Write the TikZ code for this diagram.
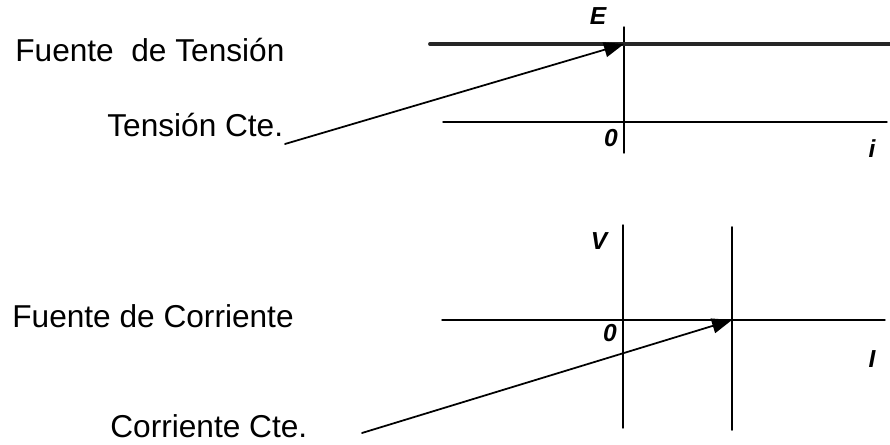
\documentclass[tikz,border=0pt]{standalone}
\usepackage{fontspec}
\setmainfont{Liberation Sans}
\usetikzlibrary{arrows.meta}
\begin{document}
\begin{tikzpicture}[line cap=round,line join=round,
    txt/.style={font=\fontsize{18}{20}\selectfont,inner sep=0pt,anchor=base west},
    lbl/.style={font=\fontsize{14}{16}\selectfont\bfseries\itshape,inner sep=0pt},
    axis/.style={line width=0.8pt},
    pointer/.style={line width=1pt,-{Triangle[length=0.4cm,width=0.3cm]}}]
    \useasboundingbox (0,0) rectangle (17.8,8.9);
    % fuente de tension
    \node[txt] (ftitle) at (0.3,7.66) {Fuente\ \ de Tensión};
    \node[txt] (tcte) at (2.14,6.16) {Tensión Cte.};
    \coordinate (tn) at (12.48,8.36); \coordinate (ts) at (12.48,5.84);
    \coordinate (tw) at (8.86,6.46); \coordinate (te) at (17.74,6.46);
    \coordinate (ew) at (8.6,8.02); \coordinate (ee) at (17.8,8.02);
    \coordinate (ecross) at (12.48,8.02);
    \coordinate (tstart) at (5.7,6.02);
    \draw[axis] (tn)--(ts); \draw[axis] (tw)--(te);
    \draw[line width=2.2pt,black!85] (ew)--(ee);
    \draw[pointer] (tstart)--(ecross);
    \node[lbl] (le) at (11.96,8.58) {E};
    \node[lbl] (lo1) at (12.22,6.14) {0};
    \node[lbl] (li) at (17.44,5.92) {i};
    % fuente de corriente
    \node[txt] (ctitle) at (0.24,2.34) {Fuente de Corriente};
    \node[txt] (ccte) at (2.2,0.14) {Corriente Cte.};
    \coordinate (cn) at (12.46,4.4); \coordinate (cs) at (12.46,0.34);
    \coordinate (cw) at (8.84,2.5); \coordinate (ce) at (17.7,2.5);
    \coordinate (in) at (14.64,4.36); \coordinate (is) at (14.64,0.3);
    \coordinate (icross) at (14.64,2.5);
    \coordinate (cstart) at (7.24,0.24);
    \draw[axis] (cn)--(cs); \draw[axis] (cw)--(ce);
    \draw[line width=1pt] (in)--(is);
    \draw[pointer] (cstart)--(icross);
    \node[lbl] (lv) at (11.98,4.08) {V};
    \node[lbl] (lo2) at (12.2,2.24) {0};
    \node[lbl] (lI) at (17.44,1.72) {I};
\end{tikzpicture}
\end{document}
